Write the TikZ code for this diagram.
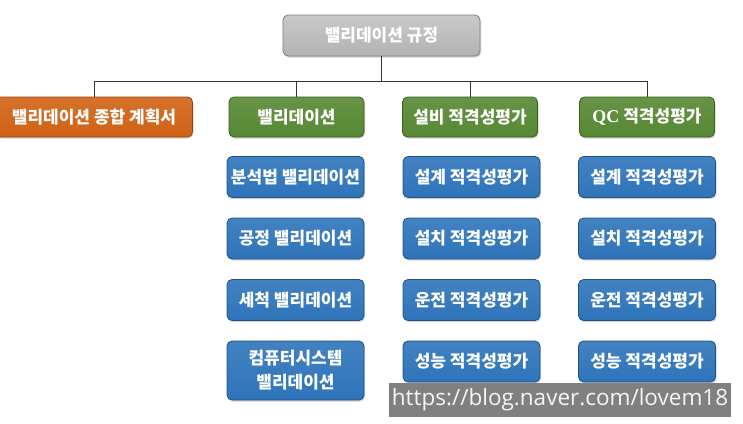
\documentclass[tikz,border=0pt]{standalone}
\usepackage{fontspec}
\setmainfont{Noto Sans CJK KR}
\newfontfamily\qcfont{Liberation Serif}
\newfontfamily\urlfont{Open Sans}
\usetikzlibrary{positioning,shadows}
\definecolor{ruleGray}{RGB}{178,178,178}
\definecolor{planOrange}{RGB}{208,98,20}
\definecolor{catGreen}{RGB}{86,136,50}
\definecolor{itemBlue}{RGB}{46,116,186}
\definecolor{markGray}{RGB}{128,128,128}

\begin{document}
\begin{tikzpicture}[x=1pt,y=-1pt,
  base/.style={rectangle,rounded corners=5pt,line width=0.8pt,text=white,align=center,
               font=\fontsize{17}{24}\selectfont\bfseries,inner sep=0pt,
               drop shadow={shadow xshift=1pt,shadow yshift=-1.5pt,opacity=0.35}},
  rule/.style={base,draw=ruleGray!70!black,top color=ruleGray!70!white,bottom color=ruleGray,
               minimum width=197pt,minimum height=41pt},
  plan/.style={base,draw=planOrange!70!black,top color=planOrange!90!white,bottom color=planOrange,
               minimum width=197pt,minimum height=40pt},
  cat/.style={base,draw=catGreen!70!black,top color=catGreen!90!white,bottom color=catGreen,
              minimum width=135pt,minimum height=40pt},
  item/.style={base,draw=itemBlue!70!black,top color=itemBlue!90!white,bottom color=itemBlue,
               minimum width=137pt,minimum height=41pt},
  urlbox/.style={rectangle,fill=markGray,text=white!92!gray,font=\urlfont\fontsize{22.5}{26}\selectfont,
               minimum width=342pt,minimum height=34pt,inner sep=0pt},
  tree/.style={line width=1pt,draw=black!80}
]
  \useasboundingbox (0,0) rectangle (743,423);
  \node[rule](rule)  at (381.5,35.5) {밸리데이션 규정};
  \coordinate (bus) at (381.5,81);
  \node[plan](plan)  at (94,117)    {밸리데이션 종합 계획서};
  \node[cat] (val)   at (296.5,117) {밸리데이션};
  \node[cat] (equip) at (470,117)   {설비 적격성평가};
  \node[cat] (qc)    at (647,117)   {{\qcfont\fontsize{18}{24}\selectfont QC} 적격성평가};
  % validation column
  \node[item](anal)  at (295.5,177) {분석법 밸리데이션};
  \node[item](proc)  at (295.5,238.5) {공정 밸리데이션};
  \node[item](clean) at (295.5,300) {세척 밸리데이션};
  \node[item,minimum height=59pt](comp) at (295.5,370.5) {컴퓨터시스템\\밸리데이션};
  % equipment column
  \node[item](edq)   at (471.5,177) {설계 적격성평가};
  \node[item](eiq)   at (471.5,238.5) {설치 적격성평가};
  \node[item](eoq)   at (471.5,300) {운전 적격성평가};
  \node[item](epq)   at (471.5,361.5) {성능 적격성평가};
  % QC column
  \node[item](qdq)   at (647,177) {설계 적격성평가};
  \node[item](qiq)   at (647,238.5) {설치 적격성평가};
  \node[item](qoq)   at (647,300) {운전 적격성평가};
  \node[item](qpq)   at (647,361.5) {성능 적격성평가};
  \draw[tree](rule)--(bus);
  \draw[tree](bus)-|(plan); \draw[tree](bus)-|(val);
  \draw[tree](bus)-|(equip); \draw[tree](bus)-|(qc);
  \node[urlbox](url) at (560,400) {https://blog.naver.com/lovem18};
\end{tikzpicture}
\end{document}
